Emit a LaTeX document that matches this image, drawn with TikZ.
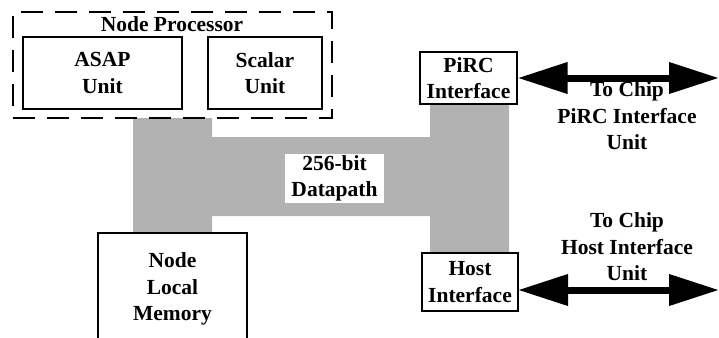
\documentclass[tikz,border=0pt]{standalone}
\usepackage{fontspec}
\setmainfont{Liberation Serif}
\usetikzlibrary{arrows.meta}

\begin{document}
\begin{tikzpicture}[x=1pt,y=-1pt,
    blk/.style={draw, line width=1.3pt, align=center, inner sep=0pt},
    lbl/.style={align=center, inner sep=0pt},
    bus/.style={line width=7pt,
      {Triangle[length=50pt,width=30pt]}-{Triangle[length=50pt,width=30pt]}},
    every node/.style={font=\fontsize{21.5}{26.5}\selectfont\bfseries}]
  \useasboundingbox (0,0) rectangle (719,337);
  % datapath
  \fill[black!30] (133,118) -- (212,118) -- (212,137) -- (430,137) -- (430,104)
    -- (509,104) -- (509,253) -- (430,253) -- (430,216) -- (212,216)
    -- (212,233) -- (133,233) -- cycle;
  \node[lbl, fill=white, minimum width=99pt, minimum height=49pt]
    (dp) at (334.5,178.5) {256-bit\\Datapath};
  % node processor
  \node[draw, line width=2pt, dash pattern=on 22pt off 12pt,
    minimum width=319pt, minimum height=106pt] (np) at (172.5,65) {};
  \node[lbl] (nptitle) at (172,24) {Node Processor};
  \node[blk, minimum width=159pt, minimum height=72pt] (asap) at (102.5,73) {ASAP\\Unit};
  \node[blk, minimum width=114pt, minimum height=72pt] (scalar) at (265,73) {Scalar\\Unit};
  \node[blk, minimum width=149pt, minimum height=112pt] (mem) at (172.5,289)
    {Node\\Local\\Memory};
  % interfaces
  \node[blk, minimum width=97pt, minimum height=52pt] (pirc) at (468.5,78) {PiRC\\Interface};
  \node[blk, minimum width=96pt, minimum height=58pt] (host) at (470,282) {Host\\Interface};
  \coordinate (pircout) at (719,78);
  \coordinate (hostin) at (518,290);
  \coordinate (hostout) at (719,290);
  \draw[bus] (pirc.east) -- (pircout);
  \draw[bus] (hostin) -- (hostout);
  \node[lbl] (pirclbl) at (627,116) {To Chip\\PiRC Interface\\Unit};
  \node[lbl] (hostlbl) at (627,247) {To Chip\\Host Interface\\Unit};
\end{tikzpicture}
\end{document}
